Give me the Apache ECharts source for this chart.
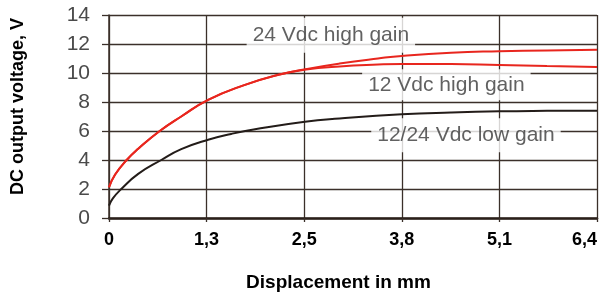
<!DOCTYPE html>
<html>
<head>
<meta charset="utf-8">
<script src="https://cdn.jsdelivr.net/npm/echarts@6/dist/echarts.min.js"></script>
<style>
  html, body { margin: 0; padding: 0; background: #fff; }
  #chart { width: 601px; height: 302px; }
</style>
</head>
<body>
<div id="chart"></div>
<script>
// x ticks are every 0.05 in, shown in mm
const xTickLabels = ['0', '1,3', '2,5', '3,8', '5,1', '6,4']
const xStep = 1.27

// 24 Vdc high gain
const xHigh24 = [0, 0.08, 0.23, 0.38, 0.66, 0.94, 1.29, 1.75, 2.22, 2.54, 3.0, 3.5, 3.81, 4.45, 5.08, 5.7, 6.35]
const vHigh24 = [2.12, 3.0, 4.0, 4.77, 6.0, 7.0, 8.15, 9.15, 9.9, 10.25, 10.65, 11.0, 11.18, 11.4, 11.5, 11.56, 11.6]
// 12 Vdc high gain
const xHigh12 = [0, 0.08, 0.23, 0.38, 0.66, 0.94, 1.29, 1.75, 2.22, 2.54, 3.0, 3.5, 3.81, 4.45, 5.08, 5.7, 6.35]
const vHigh12 = [2.12, 3.0, 4.0, 4.77, 6.0, 7.0, 8.15, 9.15, 9.9, 10.22, 10.45, 10.58, 10.62, 10.62, 10.55, 10.48, 10.42]
// 12/24 Vdc low gain
const xLow = [0, 0.05, 0.16, 0.38, 0.68, 0.94, 1.29, 1.59, 1.9, 2.55, 3.0, 3.81, 4.45, 5.08, 5.7, 6.35]
const vLow = [0.85, 1.35, 2.0, 3.04, 4.0, 4.75, 5.4, 5.8, 6.12, 6.64, 6.86, 7.15, 7.28, 7.36, 7.39, 7.4]

const seriesNames = ['24 Vdc high gain', '12 Vdc high gain', '12/24 Vdc low gain']
// where each curve name sits (mm, V)
const noteX = [2.887, 4.39, 4.645]
const noteY = [12.6, 9.19, 5.70]
const notePad = [[9, 6, 4, 6], [2, 6, 7, 6], [8, 6, 4, 6]]

const pairs = (xs, ys) => xs.map((x, i) => [x, ys[i]])
const gridColor = '#3b302a'

const chart = echarts.init(document.getElementById('chart'))
chart.setOption({
  animation: false,
  grid: { left: 109, right: 4, top: 15, bottom: 84, outerBoundsMode: 'none', containLabel: false },
  xAxis: {
    type: 'value',
    min: 0,
    max: 6.35,
    interval: xStep,
    name: 'Displacement in mm',
    nameLocation: 'middle',
    nameGap: 55,
    nameTextStyle: { fontFamily: 'Liberation Sans', fontWeight: 'bold', fontSize: 19, color: '#000', padding: [0, 29, 0, 0] },
    axisLine: { show: true, lineStyle: { color: '#2a1f1a', width: 2.5 } },
    axisTick: { show: true, length: 4, lineStyle: { color: gridColor, width: 1.3 } },
    axisLabel: {
      margin: 13,
      fontFamily: 'Liberation Sans', fontWeight: 'bold', fontSize: 18, color: '#000',
      showMaxLabel: true,
      alignMaxLabel: 'right',
      formatter: v => xTickLabels[Math.round(v / xStep)]
    },
    splitLine: { show: true, lineStyle: { color: gridColor, width: 1.3 } }
  },
  yAxis: {
    type: 'value',
    min: 0,
    max: 14,
    interval: 2,
    name: 'DC output voltage, V',
    nameLocation: 'middle',
    nameGap: 82,
    nameTextStyle: { fontFamily: 'Liberation Sans', fontWeight: 'bold', fontSize: 18, color: '#000', padding: [0, 0, 0, 20] },
    axisLine: { show: true, lineStyle: { color: gridColor, width: 1.5 } },
    axisTick: { show: true, length: 7, lineStyle: { color: gridColor, width: 1.3 } },
    axisLabel: { margin: 19, fontFamily: 'Liberation Sans', fontSize: 21, color: '#4a4a4a' },
    splitLine: { show: true, lineStyle: { color: gridColor, width: 1.3 } }
  },
  series: [
    {
      name: seriesNames[0], type: 'line', z: 10, smooth: 0.5, showSymbol: false,
      lineStyle: { color: '#e8261e', width: 2 },
      data: pairs(xHigh24, vHigh24)
    },
    {
      name: seriesNames[1], type: 'line', z: 10, smooth: 0.5, showSymbol: false,
      lineStyle: { color: '#e8261e', width: 2 },
      data: pairs(xHigh12, vHigh12)
    },
    {
      name: seriesNames[2], type: 'line', z: 10, smooth: 0.5, showSymbol: false,
      lineStyle: { color: '#231c19', width: 2 },
      data: pairs(xLow, vLow)
    },
    {
      type: 'scatter', z: 3, symbolSize: 0, silent: true,
      data: seriesNames.map((n, i) => ({
        value: [noteX[i], noteY[i]],
        label: {
          show: true, position: 'inside', formatter: n,
          fontFamily: 'Liberation Sans', fontSize: 21, lineHeight: 22, color: '#3a3a3a',
          backgroundColor: '#fff', padding: notePad[i]
        }
      }))
    }
  ]
})
</script>
</body>
</html>
